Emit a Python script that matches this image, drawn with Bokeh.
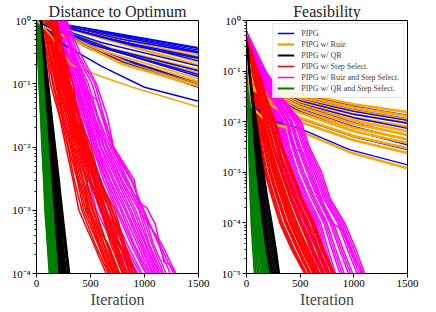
from bokeh.plotting import figure
from bokeh.models import Range1d, FixedTicker, CustomJSTickFormatter, Legend, LegendItem
from bokeh.layouts import row
from bokeh.embed import file_html
from bokeh.resources import INLINE

# ---------------- data ----------------
SERIES_NAMES = ["PIPG", "PIPG w/ Ruiz", "PIPG w/ QR", "PIPG w/ Step Select.",
                "PIPG w/ Ruiz and Step Select.", "PIPG w/ QR and Step Select."]
SERIES_COLORS = ["#0000ff", "#ffa500", "#000000", "#ff0000", "#ff00ff", "#008000"]

X_TICKS = [0, 500, 1000, 1500]
LEFT_DECADES = [1e-4, 1e-3, 1e-2, 1e-1, 1]
RIGHT_DECADES = [1e-5, 1e-4, 1e-3, 1e-2, 1e-1, 1]

# Distance to optimum: value grid at which crossing iterations are read
LEFT_GRID = [1, 0.3, 0.1, 0.03, 0.01, 0.003, 0.001, 0.0003, 0.0001, 0.00004]

LEFT_PIPG = [
    ([0, 90, 1500], [1, 0.97, 0.37]),
    ([0, 100, 1500], [1, 0.95, 0.34]),
    ([0, 95, 1500], [1, 0.96, 0.36]),
    ([0, 80, 800, 1500], [1, 0.95, 0.5, 0.31]),
    ([0, 85, 1500], [1, 0.94, 0.32]),
    ([0, 110, 700, 1500], [1, 0.93, 0.5, 0.26]),
    ([0, 105, 900, 1500], [1, 0.92, 0.4, 0.25]),
    ([0, 120, 1500], [1, 0.9, 0.23]),
    ([0, 70, 600, 1500], [1, 0.9, 0.45, 0.19]),
    ([0, 75, 700, 1500], [1, 0.88, 0.35, 0.16]),
    ([0, 60, 500, 1500], [1, 0.9, 0.42, 0.14]),
    ([0, 90, 600, 1500], [1, 0.85, 0.38, 0.13]),
    ([0, 65, 600, 1500], [1, 0.86, 0.32, 0.10]),
    ([0, 70, 500, 1500], [1, 0.85, 0.35, 0.095]),
    ([0, 50, 800, 1500], [1, 0.8, 0.22, 0.088]),
    ([0, 60, 230, 600, 1000, 1500], [1, 0.85, 0.44, 0.19, 0.088, 0.053]),
]
LEFT_RUIZ = [
    ([0, 100, 1500], [1, 0.98, 0.31]),
    ([0, 110, 1500], [1, 0.97, 0.29]),
    ([0, 80, 1500], [1, 0.95, 0.27]),
    ([0, 120, 1500], [1, 0.95, 0.22]),
    ([0, 95, 1500], [1, 0.93, 0.2]),
    ([0, 90, 1500], [1, 0.92, 0.19]),
    ([0, 70, 700, 1500], [1, 0.9, 0.36, 0.17]),
    ([0, 85, 700, 1500], [1, 0.9, 0.34, 0.16]),
    ([0, 100, 700, 1500], [1, 0.9, 0.33, 0.15]),
    ([0, 60, 700, 1500], [1, 0.85, 0.3, 0.12]),
    ([0, 75, 700, 1500], [1, 0.87, 0.28, 0.11]),
    ([0, 80, 700, 1500], [1, 0.85, 0.26, 0.105]),
    ([0, 65, 800, 1500], [1, 0.84, 0.22, 0.1]),
    ([0, 60, 900, 1500], [1, 0.8, 0.2, 0.095]),
    ([0, 55, 800, 1500], [1, 0.82, 0.21, 0.092]),
    ([0, 70, 800, 1500], [1, 0.8, 0.2, 0.09]),
    ([0, 120, 320, 600, 890, 1500], [1, 0.62, 0.2, 0.13, 0.088, 0.043]),
]
LEFT_QR = [
    [10, 31, 49, 71, 90, 111, 129, 151, 170, 178],
    [12, 33, 53, 74, 95, 114, 135, 155, 175, 183],
    [15, 35, 57, 76, 99, 117, 140, 159, 180, 188],
    [18, 40, 60, 82, 102, 123, 145, 165, 185, 194],
    [20, 42, 62, 85, 104, 127, 147, 170, 190, 199],
    [25, 46, 70, 90, 113, 133, 157, 177, 200, 209],
    [28, 50, 73, 94, 117, 138, 161, 183, 205, 214],
    [30, 53, 74, 99, 119, 143, 164, 189, 210, 219],
    [20, 46, 69, 96, 119, 146, 169, 196, 220, 230],
    [33, 56, 80, 104, 128, 151, 176, 199, 225, 236],
    [35, 59, 86, 109, 136, 159, 186, 209, 235, 245],
    [38, 64, 90, 114, 142, 166, 193, 217, 242, 253],
    [40, 67, 91, 120, 144, 172, 197, 225, 250, 261],
    [30, 60, 87, 117, 144, 175, 202, 232, 260, 272],
    [42, 70, 98, 126, 154, 182, 210, 238, 267, 279],
    [45, 73, 104, 130, 161, 188, 219, 245, 275, 287],
    [40, 72, 101, 135, 164, 197, 226, 260, 290, 303],
    [43, 75, 106, 138, 169, 202, 232, 267, 297, 310],
    [45, 79, 109, 143, 174, 209, 239, 273, 305, 318],
]
LEFT_STEP = [
    [30, 95, 128, 214, 272, 338, 392, 526, 645, 700],
    [40, 100, 150, 220, 290, 350, 420, 540, 665, 715],
    [50, 116, 156, 236, 296, 378, 436, 566, 676, 730],
    [55, 125, 175, 245, 315, 385, 455, 575, 690, 740],
    [70, 114, 186, 244, 326, 394, 476, 584, 706, 750],
    [65, 130, 190, 260, 335, 410, 485, 600, 715, 765],
    [60, 146, 196, 276, 346, 426, 496, 616, 726, 780],
    [85, 145, 215, 280, 360, 435, 515, 625, 740, 790],
    [90, 156, 206, 296, 366, 456, 526, 646, 746, 800],
    [95, 165, 225, 310, 390, 460, 545, 650, 760, 810],
    [100, 170, 230, 300, 380, 470, 460, 660, 770, 820],
    [80, 154, 246, 314, 406, 484, 596, 684, 796, 840],
    [115, 175, 245, 325, 410, 505, 600, 700, 800, 850],
    [120, 186, 244, 336, 414, 526, 604, 716, 804, 860],
    [110, 190, 260, 340, 430, 500, 600, 720, 820, 870],
    [125, 201, 259, 351, 424, 531, 619, 731, 824, 880],
    [130, 200, 270, 350, 440, 540, 640, 740, 840, 890],
    [150, 214, 296, 364, 466, 554, 676, 764, 866, 910],
    [145, 215, 285, 365, 450, 545, 650, 760, 870, 915],
    [160, 236, 294, 386, 464, 576, 679, 791, 869, 925],
    [170, 240, 310, 390, 480, 580, 700, 800, 890, 940],
    [180, 256, 314, 401, 484, 591, 704, 816, 894, 945],
    [140, 210, 280, 360, 440, 530, 620, 750, 925, 960],
    [190, 254, 336, 394, 506, 584, 726, 814, 916, 950],
]
LEFT_RUIZ_STEP = [
    [130, 186, 224, 326, 394, 486, 554, 706, 856, 920],
    [140, 190, 245, 335, 415, 500, 585, 725, 880, 940],
    [150, 206, 254, 356, 424, 526, 604, 756, 896, 960],
    [155, 215, 275, 365, 445, 540, 630, 770, 920, 980],
    [170, 226, 284, 386, 454, 566, 644, 796, 936, 1000],
    [165, 230, 305, 395, 475, 575, 675, 810, 960, 1020],
    [190, 256, 314, 416, 484, 596, 694, 836, 976, 1040],
    [160, 240, 340, 430, 520, 620, 740, 870, 1010, 1070],
    [175, 266, 344, 446, 524, 641, 754, 891, 1021, 1085],
    [200, 270, 360, 450, 540, 650, 780, 900, 1040, 1100],
    [205, 286, 364, 466, 544, 671, 794, 931, 1051, 1115],
    [220, 290, 380, 470, 560, 680, 820, 950, 1070, 1130],
    [195, 276, 384, 486, 569, 706, 834, 966, 1081, 1145],
    [180, 300, 400, 500, 590, 720, 860, 980, 1100, 1160],
    [225, 316, 404, 516, 599, 746, 874, 1001, 1111, 1175],
    [240, 320, 420, 520, 620, 760, 900, 1010, 1130, 1190],
    [235, 336, 434, 536, 629, 781, 919, 1031, 1141, 1205],
    [210, 330, 450, 540, 650, 790, 950, 1040, 1160, 1220],
    [250, 346, 459, 561, 659, 816, 964, 1066, 1176, 1235],
    [260, 350, 480, 570, 680, 830, 990, 1080, 1200, 1250],
    [230, 366, 514, 606, 694, 876, 994, 1126, 1236, 1290],
    [270, 380, 540, 625, 710, 885, 980, 1135, 1270, 1310],
    [280, 406, 554, 656, 714, 906, 954, 1156, 1291, 1330],
]
LEFT_RUIZ_STEP_BUMP = ([250, 330, 420, 460, 500, 555, 650, 760, 890, 950, 1020, 1100, 1180, 1230, 1290],
                       [1, 0.3, 0.1, 0.074, 0.065, 0.057, 0.02, 0.006, 0.002, 0.0013, 0.0011, 0.0006, 0.00015, 0.00014, 0.0001])
LEFT_QR_STEP = [
    [0, 13, 24, 39, 51, 67, 79, 101, 120, 126],
    [3, 14, 28, 42, 56, 71, 86, 105, 124, 131],
    [0, 16, 29, 46, 59, 77, 91, 111, 128, 135],
    [5, 19, 36, 49, 67, 81, 101, 117, 136, 143],
    [0, 19, 37, 56, 71, 91, 107, 126, 145, 152],
    [10, 24, 45, 61, 81, 97, 116, 134, 152, 160],
    [8, 22, 40, 58, 75, 93, 111, 130, 148, 156],
    [5, 25, 45, 65, 83, 105, 121, 143, 160, 168],
    [12, 28, 50, 68, 87, 106, 126, 146, 164, 172],
    [15, 31, 53, 69, 91, 109, 131, 149, 168, 176],
    [10, 31, 54, 76, 94, 116, 137, 159, 176, 185],
    [18, 35, 57, 78, 98, 119, 141, 161, 180, 189],
    [20, 37, 61, 79, 101, 121, 146, 164, 185, 194],
    [25, 46, 64, 87, 107, 131, 151, 173, 195, 204],
]

# Feasibility
RIGHT_GRID = [0.6, 0.1, 0.03, 0.01, 0.003, 0.001, 0.0003, 0.0001, 0.00003, 0.00001, 0.000005]
RIGHT_BO_ITERS = [0, 30, 60, 250, 494, 1000, 1500]
RIGHT_PIPG = [
    [0.6, 0.15, 0.12, 0.06, 0.034, 0.02, 0.0135],
    [0.6, 0.14, 0.11, 0.055, 0.031, 0.017, 0.0115],
    [0.6, 0.13, 0.10, 0.05, 0.028, 0.016, 0.0106],
    [0.6, 0.12, 0.09, 0.046, 0.026, 0.014, 0.0093],
    [0.6, 0.12, 0.085, 0.042, 0.023, 0.012, 0.0074],
    [0.6, 0.11, 0.08, 0.038, 0.021, 0.0095, 0.0054],
    [0.6, 0.10, 0.07, 0.033, 0.018, 0.008, 0.0044],
    [0.6, 0.09, 0.065, 0.03, 0.016, 0.0065, 0.0035],
    [0.6, 0.08, 0.055, 0.022, 0.0115, 0.005, 0.0028],
]
RIGHT_PIPG_LOW = ([0, 30, 56, 200, 494, 960, 1500], [0.6, 0.05, 0.021, 0.011, 0.0074, 0.0028, 0.0014])
RIGHT_RUIZ = [
    [0.6, 0.16, 0.13, 0.065, 0.036, 0.022, 0.0155],
    [0.6, 0.15, 0.12, 0.058, 0.033, 0.019, 0.013],
    [0.6, 0.14, 0.11, 0.053, 0.030, 0.0165, 0.011],
    [0.6, 0.13, 0.10, 0.048, 0.027, 0.014, 0.0095],
    [0.6, 0.12, 0.09, 0.044, 0.024, 0.012, 0.008],
    [0.6, 0.11, 0.085, 0.04, 0.022, 0.0105, 0.0065],
    [0.6, 0.11, 0.08, 0.037, 0.020, 0.009, 0.0055],
    [0.6, 0.10, 0.07, 0.032, 0.017, 0.0075, 0.0045],
    [0.6, 0.09, 0.06, 0.028, 0.015, 0.0065, 0.0038],
    [0.6, 0.08, 0.05, 0.023, 0.012, 0.0052, 0.003],
    [0.6, 0.07, 0.045, 0.02, 0.010, 0.0043, 0.0024],
]
RIGHT_RUIZ_LOW = ([0, 30, 56, 200, 494, 960, 1500], [0.6, 0.045, 0.019, 0.0095, 0.0066, 0.0025, 0.0012])
RIGHT_QR = [
    [0, 10, 20, 30, 45, 58, 75, 100, 125, 160, 170],
    [0, 12, 24, 36, 52, 66, 85, 112, 138, 175, 185],
    [0, 13, 26, 39, 55, 71, 90, 118, 145, 183, 193],
    [0, 14, 28, 42, 58, 75, 96, 124, 152, 190, 200],
    [0, 15, 30, 46, 64, 84, 106, 136, 166, 205, 215],
    [0, 16, 32, 49, 68, 88, 111, 142, 173, 212, 222],
    [0, 17, 34, 52, 72, 93, 117, 148, 180, 220, 230],
    [0, 18, 36, 56, 78, 100, 127, 160, 194, 235, 245],
    [0, 19, 38, 59, 82, 105, 133, 166, 201, 241, 251],
    [0, 20, 40, 62, 86, 110, 140, 172, 208, 248, 258],
    [0, 22, 44, 68, 94, 120, 150, 184, 222, 262, 272],
    [0, 24, 48, 74, 102, 130, 162, 198, 236, 276, 286],
    [0, 26, 52, 80, 110, 140, 174, 212, 250, 290, 300],
    [0, 28, 56, 86, 118, 150, 186, 226, 262, 300],
    [0, 30, 60, 92, 126, 160, 196, 236, 275, 305],
]
RIGHT_STEP = [
    [0, 30, 65, 100, 135, 170, 240, 310, 420, 540, 570],
    [0, 32, 68, 105, 142, 180, 252, 322, 432, 550, 580],
    [0, 35, 72, 110, 150, 190, 265, 335, 445, 560, 590],
    [0, 40, 80, 120, 165, 210, 285, 360, 470, 580, 610],
    [0, 42, 84, 125, 172, 219, 295, 370, 480, 590, 620],
    [0, 45, 88, 130, 178, 228, 305, 380, 490, 600, 630],
    [0, 50, 95, 140, 190, 245, 325, 400, 510, 620, 650],
    [0, 52, 98, 145, 196, 254, 335, 410, 520, 630, 660],
    [0, 55, 102, 150, 202, 262, 345, 420, 530, 640, 670],
    [0, 58, 106, 155, 208, 270, 355, 432, 542, 650, 680],
    [0, 60, 110, 160, 215, 280, 365, 445, 555, 660, 690],
    [0, 62, 114, 166, 222, 290, 375, 458, 565, 670, 700],
    [0, 65, 118, 172, 230, 300, 385, 470, 575, 680, 710],
    [0, 70, 126, 185, 245, 320, 405, 495, 600, 700, 730],
    [0, 72, 130, 192, 254, 330, 416, 508, 612, 712, 742],
    [0, 75, 135, 200, 262, 340, 428, 520, 625, 725, 755],
    [0, 80, 145, 215, 280, 360, 450, 550, 650, 750, 780],
    [0, 85, 150, 224, 290, 370, 462, 565, 662, 762, 790],
    [0, 90, 155, 232, 300, 380, 475, 580, 675, 775, 800],
    [0, 100, 168, 250, 320, 405, 500, 605, 700, 800, 825],
    [0, 110, 176, 260, 330, 418, 510, 618, 710, 810, 835],
    [0, 120, 185, 270, 340, 430, 520, 630, 720, 820, 845],
]
RIGHT_RUIZ_STEP = [
    [0, 60, 150, 240, 285, 325, 430, 540, 585, 630, 660],
    [0, 65, 158, 250, 296, 340, 445, 555, 602, 650, 680],
    [0, 70, 165, 262, 308, 355, 460, 570, 620, 670, 700],
    [0, 80, 180, 285, 332, 385, 490, 600, 655, 710, 740],
    [0, 85, 188, 295, 344, 400, 505, 615, 672, 730, 760],
    [0, 90, 195, 305, 356, 415, 520, 630, 690, 750, 780],
    [0, 95, 202, 315, 368, 430, 535, 645, 708, 770, 800],
    [0, 100, 210, 325, 380, 445, 550, 660, 725, 790, 820],
    [0, 105, 218, 335, 392, 460, 565, 675, 742, 810, 840],
    [0, 110, 225, 345, 405, 475, 580, 690, 760, 830, 860],
    [0, 120, 240, 365, 430, 505, 610, 720, 795, 870, 900],
    [0, 125, 248, 375, 442, 520, 625, 735, 812, 890, 920],
    [0, 130, 255, 385, 455, 535, 640, 750, 830, 910, 940],
    [0, 140, 270, 405, 480, 565, 665, 780, 865, 950, 980],
    [0, 145, 278, 415, 492, 580, 678, 795, 882, 970, 1000],
    [0, 150, 285, 425, 505, 595, 690, 810, 900, 990, 1020],
    [0, 160, 300, 450, 530, 630, 720, 850, 940, 1030, 1060],
    [0, 165, 308, 465, 545, 648, 735, 865, 960, 1050, 1080],
    [0, 170, 315, 480, 560, 665, 750, 880, 980, 1070, 1100],
    [0, 175, 322, 495, 575, 682, 765, 898, 1000, 1085, 1115],
    [0, 180, 330, 510, 590, 700, 780, 915, 1020, 1100, 1130],
]
RIGHT_RUIZ_STEP_BUMP = ([0, 120, 250, 380, 420, 460, 510, 560, 700, 760, 800, 900, 1000, 1080],
                        [0.6, 0.1, 0.03, 0.01, 0.004, 0.0028, 0.0027, 0.002, 0.0003, 0.00012, 0.0001, 0.00007, 0.00002, 0.00001])
RIGHT_QR_STEP = [
    [0, 5, 10, 16, 22, 28, 36, 45, 60, 75, 82],
    [0, 6, 12, 19, 26, 34, 44, 56, 72, 88, 95],
    [0, 7, 14, 22, 30, 40, 52, 66, 84, 102, 110],
    [0, 8, 16, 25, 35, 46, 60, 76, 96, 116, 125],
    [0, 9, 18, 28, 40, 52, 68, 86, 108, 130, 140],
    [0, 10, 20, 31, 44, 58, 76, 96, 120, 145, 155],
    [0, 11, 22, 34, 48, 64, 84, 106, 132, 160, 170],
    [0, 12, 24, 37, 52, 70, 92, 116, 144, 175, 185],
    [0, 13, 26, 40, 57, 76, 100, 126, 156, 190, 200],
    [0, 14, 28, 44, 62, 82, 108, 136, 168, 205, 214],
]

SERIF = "Liberation Serif"


def on_grid(iter_lists, grid):
    return [(its, grid[:len(its)]) for its in iter_lists]


def sup_formatter():
    return CustomJSTickFormatter(code="""
const e = Math.round(Math.log10(tick));
const m = {"-": "\\u207b", "0": "\\u2070", "1": "\\u00b9", "2": "\\u00b2", "3": "\\u00b3",
           "4": "\\u2074", "5": "\\u2075", "6": "\\u2076", "7": "\\u2077", "8": "\\u2078", "9": "\\u2079"};
return "10" + String(e).split("").map(c => m[c]).join("");
""")


def make_fig(title, ymin, decades, width, left, right):
    p = figure(width=width, height=310, x_range=Range1d(0, 1500), y_range=Range1d(ymin, 1),
               y_axis_type="log", output_backend="svg", toolbar_location=None,
               min_border_left=left, min_border_right=right, min_border_top=0, min_border_bottom=0,
               title=title)
    p.title.text_font = SERIF
    p.title.text_font_size = "16px"
    p.title.text_font_style = "normal"
    p.title.align = "center"
    p.title.standoff = 1
    p.title.text_color = "#222222"
    p.grid.visible = False
    p.outline_line_color = "black"
    p.outline_line_alpha = 1
    p.outline_line_width = 1
    minor = []
    for d in decades[:-1]:
        minor += [k * d for k in range(2, 10)]
    p.yaxis.ticker = FixedTicker(ticks=decades, minor_ticks=minor)
    p.yaxis.formatter = sup_formatter()
    p.xaxis.ticker = FixedTicker(ticks=X_TICKS, minor_ticks=[])
    p.xaxis.axis_label = "Iteration"
    p.xaxis.axis_label_text_font = SERIF
    p.xaxis.axis_label_text_font_size = "16px"
    p.xaxis.axis_label_text_font_style = "normal"
    p.xaxis.axis_label_standoff = 1
    for ax in (p.xaxis, p.yaxis):
        ax.major_label_text_font = SERIF
        ax.major_label_text_font_size = "11px"
        ax.major_label_standoff = 2
        ax.major_tick_out = 4
        ax.major_tick_in = 0
        ax.minor_tick_out = 2
        ax.minor_tick_in = 0
        ax.axis_line_color = "black"
        ax.major_tick_line_color = "black"
        ax.minor_tick_line_color = "black"
        ax.major_label_text_color = "black"
    return p


def draw(p, series):
    first = {}
    n = max(len(s[2]) for s in series)
    for i in range(n):
        for name, color, lines, lw in series:
            if i < len(lines):
                xs, ys = lines[i]
                r = p.line(list(xs), list(ys), line_color=color, line_width=lw)
                first.setdefault(name, r)
    return first


# ---------------- left ----------------
p1 = make_fig("Distance to Optimum", 1e-4, LEFT_DECADES, 217, 36, 19)
left_series = [
    (SERIES_NAMES[0], SERIES_COLORS[0], LEFT_PIPG, 1.5),
    (SERIES_NAMES[1], SERIES_COLORS[1], LEFT_RUIZ, 1.5),
    (SERIES_NAMES[2], SERIES_COLORS[2], on_grid(LEFT_QR, LEFT_GRID), 1.8),
    (SERIES_NAMES[3], SERIES_COLORS[3], on_grid(LEFT_STEP, LEFT_GRID), 1.5),
    (SERIES_NAMES[4], SERIES_COLORS[4], on_grid(LEFT_RUIZ_STEP, LEFT_GRID) + [LEFT_RUIZ_STEP_BUMP], 1.5),
    (SERIES_NAMES[5], SERIES_COLORS[5], on_grid(LEFT_QR_STEP, LEFT_GRID), 1.8),
]
draw(p1, left_series)

# ---------------- right ----------------
p2 = make_fig("Feasibility", 1e-5, RIGHT_DECADES, 210, 29, 20)
right_series = [
    (SERIES_NAMES[1], SERIES_COLORS[1], [(RIGHT_BO_ITERS, v) for v in RIGHT_RUIZ] + [RIGHT_RUIZ_LOW], 2.6),
    (SERIES_NAMES[0], SERIES_COLORS[0], [(RIGHT_BO_ITERS, v) for v in RIGHT_PIPG] + [RIGHT_PIPG_LOW], 1.4),
    (SERIES_NAMES[2], SERIES_COLORS[2], on_grid(RIGHT_QR, RIGHT_GRID), 1.8),
    (SERIES_NAMES[3], SERIES_COLORS[3], on_grid(RIGHT_STEP, RIGHT_GRID), 1.5),
    (SERIES_NAMES[4], SERIES_COLORS[4], on_grid(RIGHT_RUIZ_STEP, RIGHT_GRID) + [RIGHT_RUIZ_STEP_BUMP], 1.5),
    (SERIES_NAMES[5], SERIES_COLORS[5], on_grid(RIGHT_QR_STEP, RIGHT_GRID), 1.8),
]
first = draw(p2, right_series)

legend = Legend(items=[LegendItem(label=nm, renderers=[first[nm]]) for nm in SERIES_NAMES],
                location="top_right")
legend.label_text_font = SERIF
legend.label_text_font_size = "8px"
legend.glyph_width = 17
legend.glyph_height = 10
legend.label_height = 10
legend.label_standoff = 7
legend.spacing = 1
legend.padding = 4
legend.margin = 3
legend.border_line_color = "#cccccc"
legend.border_line_width = 1
legend.background_fill_alpha = 0.9
p2.add_layout(legend)

layout = row(p1, p2)
open("out.html", "w").write(file_html(layout, INLINE))
